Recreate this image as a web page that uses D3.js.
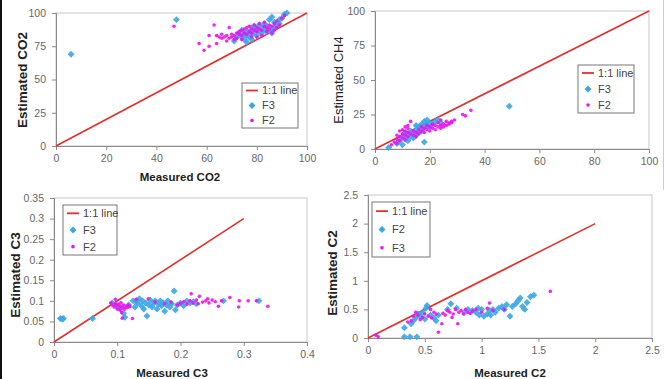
<!DOCTYPE html>
<html>
<head>
<meta charset="utf-8">
<script src="https://cdn.jsdelivr.net/npm/d3@7"></script>
<style>
  body { margin: 0; background: #fff; }
  svg { display: block; font-family: "Liberation Sans", Arial, sans-serif; }
</style>
</head>
<body>
<svg id="chart" width="665" height="379"></svg>
<script>
// ---------- DATA ----------
const co2F3 = [[6,69],[48,95],[71,79],[72,82],[73,85],[74,87],[75,80],[75,84],[76,78],[76,83],[77,82],[77,86],[78,80],[78,84],[78,89],[79,86],[79,90],[80,83],[80,88],[81,86],[81,91],[82,85],[82,89],[83,88],[83,92],[84,86],[84,90],[85,87],[85,95],[86,97],[86,88],[86,85],[87,89],[87,93],[88,90],[89,92],[89,95],[90,96],[91,99],[92,100],[74,82],[76,86]];
const co2F2 = [[47,90],[57,77],[59,72],[61,75],[61,83],[63,91],[64,77],[64,83],[65,82],[66,81],[67,82],[68,83],[69,81],[69,89],[70,82],[70,84],[71,83],[72,81],[72,85],[73,84],[73,86],[74,83],[74,87],[75,85],[75,88],[76,84],[76,89],[77,86],[77,90],[78,85],[78,88],[79,87],[79,91],[80,86],[80,89],[81,88],[81,92],[82,87],[82,83],[83,90],[83,93],[84,86],[84,89],[85,88],[85,91],[86,85],[86,90],[87,87],[87,92],[88,89],[88,94],[89,91],[90,96],[91,98],[78,82],[80,82],[66,84],[68,79],[71,80],[74,80]];
const ch4F3 = [[5,1],[8,4],[9,6],[10,3],[10,9],[11,7],[11,12],[12,10],[13,13],[13,9],[14,11],[14,8],[15,14],[15,10],[16,12],[16,16],[17,13],[17,18],[18,5],[18,15],[18,20],[19,17],[19,21],[20,16],[20,19],[21,18],[22,20],[23,21],[24,19],[49,31],[12,6],[15,17]];
const ch4F2 = [[6,3],[7,5],[8,4],[8,7],[9,6],[9,9],[10,8],[10,11],[10,14],[11,7],[11,10],[11,13],[12,9],[12,12],[12,15],[13,20],[13,11],[14,10],[14,13],[15,12],[15,9],[16,14],[16,11],[17,13],[17,16],[18,12],[18,15],[19,14],[19,17],[20,13],[20,16],[21,15],[21,18],[22,14],[22,17],[23,16],[23,19],[24,17],[24,15],[25,18],[25,16],[26,17],[27,19],[27,18],[28,20],[28,19],[29,21],[32,25],[33,24],[35,28],[24,21],[26,20],[8,10],[9,13],[11,16],[12,17]];
const c3F3 = [[0.010,0.057],[0.013,0.056],[0.015,0.057],[0.061,0.057],[0.092,0.095],[0.098,0.088],[0.105,0.082],[0.11,0.07],[0.112,0.06],[0.118,0.09],[0.13,0.1],[0.132,0.095],[0.135,0.105],[0.138,0.088],[0.14,0.1],[0.142,0.08],[0.145,0.095],[0.147,0.063],[0.15,0.09],[0.152,0.102],[0.155,0.085],[0.158,0.095],[0.16,0.1],[0.163,0.08],[0.165,0.092],[0.168,0.1],[0.17,0.088],[0.173,0.095],[0.175,0.075],[0.178,0.09],[0.18,0.1],[0.183,0.085],[0.186,0.093],[0.19,0.124],[0.192,0.078],[0.195,0.09],[0.2,0.095],[0.205,0.088],[0.21,0.1],[0.215,0.095],[0.22,0.098],[0.225,0.093],[0.268,0.1],[0.324,0.1],[0.128,0.085],[0.125,0.1]];
const c3F2 = [[0.09,0.095],[0.092,0.09],[0.095,0.085],[0.097,0.093],[0.1,0.088],[0.1,0.08],[0.102,0.092],[0.104,0.078],[0.105,0.086],[0.106,0.095],[0.107,0.072],[0.108,0.058],[0.109,0.083],[0.11,0.09],[0.112,0.08],[0.114,0.087],[0.116,0.084],[0.118,0.09],[0.12,0.086],[0.124,0.057],[0.149,0.105],[0.16,0.097],[0.175,0.093],[0.185,0.097],[0.195,0.09],[0.2,0.094],[0.205,0.098],[0.21,0.092],[0.215,0.1],[0.217,0.117],[0.22,0.095],[0.225,0.102],[0.23,0.111],[0.235,0.097],[0.24,0.1],[0.245,0.095],[0.25,0.102],[0.255,0.098],[0.26,0.087],[0.265,0.1],[0.278,0.108],[0.292,0.085],[0.293,0.1],[0.307,0.1],[0.32,0.1],[0.338,0.087],[0.13,0.104],[0.097,0.104],[0.243,0.105],[0.228,0.093]];
const c2F2 = [[0.32,0.18],[0.32,0.02],[0.37,0.02],[0.43,0.02],[0.38,0.25],[0.4,0.3],[0.42,0.35],[0.44,0.42],[0.46,0.38],[0.48,0.45],[0.5,0.33],[0.51,0.52],[0.52,0.57],[0.55,0.4],[0.58,0.35],[0.6,0.3],[0.62,0.4],[0.7,0.5],[0.73,0.6],[0.78,0.52],[0.85,0.45],[0.88,0.5],[0.92,0.48],[0.95,0.45],[0.98,0.4],[1.0,0.5],[1.02,0.38],[1.05,0.42],[1.07,0.48],[1.1,0.5],[1.12,0.45],[1.15,0.52],[1.18,0.55],[1.2,0.5],[1.22,0.58],[1.25,0.38],[1.27,0.55],[1.3,0.6],[1.32,0.65],[1.34,0.7],[1.36,0.55],[1.38,0.5],[1.4,0.62],[1.43,0.72],[1.46,0.75],[1.08,0.4],[0.97,0.52]];
const c2F3 = [[0.07,0.05],[0.09,0.02],[0.35,0.28],[0.38,0.3],[0.4,0.38],[0.42,0.45],[0.44,0.4],[0.46,0.32],[0.48,0.36],[0.5,0.42],[0.53,0.38],[0.56,0.35],[0.58,0.45],[0.6,0.42],[0.62,0.1],[0.65,0.25],[0.68,0.4],[0.7,0.48],[0.72,0.45],[0.75,0.42],[0.77,0.5],[0.79,0.25],[0.8,0.45],[0.82,0.48],[0.84,0.42],[0.86,0.5],[0.88,0.45],[0.9,0.43],[0.92,0.47],[0.95,0.5],[1.0,0.45],[1.05,0.52],[1.07,0.61],[1.1,0.48],[1.2,0.5],[1.605,0.815],[0.74,0.36],[0.55,0.5],[0.66,0.43]];

const co2Ticks = [0,20,40,60,80,100];
const co2YTicks = [0,25,50,75,100];
const c3XTicks = [0,0.1,0.2,0.3,0.4];
const c3YTicks = [0,0.05,0.1,0.15,0.2,0.25,0.3,0.35];
const c2Ticks = [0,0.5,1,1.5,2,2.5];
const lineLabel = "1:1 line";

// ---------- LAYOUT ----------
const panels = [
  { x0:56, x1:307, y0:13, y1:146, xd:[0,100], yd:[0,100], xt:co2Ticks, yt:co2YTicks, oneTo:100,
    diamonds:co2F3, dots:co2F2, legendNames:["F3","F2"], legend:[242,83,56,45],
    xTitle:"Measured CO2", xTitleX:180, xTitleY:181, yTitle:"Estimated CO2", yTitleX:22, yTitleY:80, yBold:true },
  { x0:375, x1:649, y0:11, y1:149, xd:[0,100], yd:[0,100], xt:co2Ticks, yt:co2YTicks, oneTo:100,
    diamonds:ch4F3, dots:ch4F2, legendNames:["F3","F2"], legend:[578,65,56,48],
    xTitle:null, yTitle:"Estimated CH4", yTitleX:338, yTitleY:80, yBold:false },
  { x0:54, x1:307, y0:198, y1:342, xd:[0,0.4], yd:[0,0.35], xt:c3XTicks, yt:c3YTicks, oneTo:0.3,
    diamonds:c3F3, dots:c3F2, legendNames:["F3","F2"], legend:[63,205,54,50],
    xTitle:"Measured C3", xTitleX:172, xTitleY:377, yTitle:"Estimated C3", yTitleX:15, yTitleY:275, yBold:true },
  { x0:368, x1:652, y0:195, y1:338, xd:[0,2.5], yd:[0,2.5], xt:c2Ticks, yt:c2Ticks, oneTo:2,
    diamonds:c2F2, dots:c2F3, legendNames:["F2","F3"], legend:[372,202,58,55],
    xTitle:"Measured C2", xTitleX:510, xTitleY:377, yTitle:"Estimated C2", yTitleX:332, yTitleY:273, yBold:true }
];

const RED = "#e0302c", BLUE = "#3aa6e6", MAG = "#f010f0";
const svg = d3.select("#chart");
svg.append("rect").attr("width",665).attr("height",379).attr("fill","#fff");
svg.append("rect").attr("x",0).attr("y",0).attr("width",2).attr("height",379).attr("fill","#111");
svg.append("line").attr("x1",663.5).attr("x2",663.5).attr("y1",0).attr("y2",190).attr("stroke","#ccc");

const fmt = d => String(+d.toFixed(2));
const diamond = d3.symbol().type(d3.symbolSquare).size(24);

panels.forEach(p => {
  const x = d3.scaleLinear().domain(p.xd).range([p.x0, p.x1]);
  const y = d3.scaleLinear().domain(p.yd).range([p.y1, p.y0]);
  const g = svg.append("g");

  g.append("rect").attr("x",p.x0).attr("y",p.y0).attr("width",p.x1-p.x0).attr("height",p.y1-p.y0)
    .attr("fill","none").attr("stroke","#c8c8c8").attr("stroke-width",1);

  const xa = g.append("g").attr("transform",`translate(0,${p.y1})`)
    .call(d3.axisBottom(x).tickValues(p.xt).tickSize(4).tickPadding(5).tickFormat(fmt));
  const ya = g.append("g").attr("transform",`translate(${p.x0},0)`)
    .call(d3.axisLeft(y).tickValues(p.yt).tickSize(4).tickPadding(6).tickFormat(fmt));
  [xa, ya].forEach(a => {
    a.select(".domain").attr("stroke","#8a8a8a");
    a.selectAll(".tick line").attr("stroke","#8a8a8a");
    a.selectAll(".tick text").attr("fill","#666").attr("font-size","10.5px")
      .attr("font-family","'Liberation Sans', Arial, sans-serif");
  });

  g.append("line").attr("x1",x(0)).attr("y1",y(0)).attr("x2",x(p.oneTo)).attr("y2",y(p.oneTo))
    .attr("stroke",RED).attr("stroke-width",1.6);

  const clip = `clip${p.x0}_${p.y0}`;
  g.append("clipPath").attr("id",clip).append("rect")
    .attr("x",p.x0-4).attr("y",p.y0-4).attr("width",p.x1-p.x0+8).attr("height",p.y1-p.y0+8);
  const pts = g.append("g").attr("clip-path",`url(#${clip})`);
  pts.selectAll(".dm").data(p.diamonds).join("path").attr("class","dm")
    .attr("d",diamond).attr("fill",BLUE).attr("fill-opacity",0.9)
    .attr("transform",d => `translate(${x(d[0])},${y(d[1])}) rotate(45)`);
  pts.selectAll(".dt").data(p.dots).join("circle").attr("class","dt")
    .attr("cx",d => x(d[0])).attr("cy",d => y(d[1])).attr("r",1.8).attr("fill",MAG).attr("fill-opacity",0.9);

  const [lx, ly, lw, lh] = p.legend;
  const lg = g.append("g");
  lg.append("rect").attr("x",lx).attr("y",ly).attr("width",lw).attr("height",lh)
    .attr("fill","#fff").attr("stroke","#777").attr("stroke-width",1);
  const rowH = lh/3;
  const rows = [lineLabel, p.legendNames[0], p.legendNames[1]];
  rows.forEach((t,i) => {
    const cy = ly + rowH*(i+0.5);
    if (i===0) lg.append("line").attr("x1",lx+4).attr("x2",lx+16).attr("y1",cy).attr("y2",cy)
      .attr("stroke",RED).attr("stroke-width",1.8);
    if (i===1) lg.append("path").attr("d",diamond).attr("fill",BLUE)
      .attr("transform",`translate(${lx+10},${cy}) rotate(45)`);
    if (i===2) lg.append("circle").attr("cx",lx+10).attr("cy",cy).attr("r",1.8).attr("fill",MAG);
    lg.append("text").attr("x",lx+20).attr("y",cy).attr("dy","0.35em")
      .attr("font-size","11px").attr("fill","#444").text(t);
  });

  if (p.xTitle) g.append("text").attr("x",p.xTitleX).attr("y",p.xTitleY).attr("text-anchor","middle")
    .attr("font-size","11.5px").attr("font-weight","bold").attr("fill","#222").text(p.xTitle);
  g.append("text").attr("transform",`translate(${p.yTitleX},${p.yTitleY}) rotate(-90)`)
    .attr("text-anchor","middle").attr("dy","0.35em")
    .attr("font-size", p.yBold ? "13.5px" : "13px").attr("font-weight", p.yBold ? "bold" : "normal")
    .attr("fill","#222").text(p.yTitle);
});
</script>
</body>
</html>
